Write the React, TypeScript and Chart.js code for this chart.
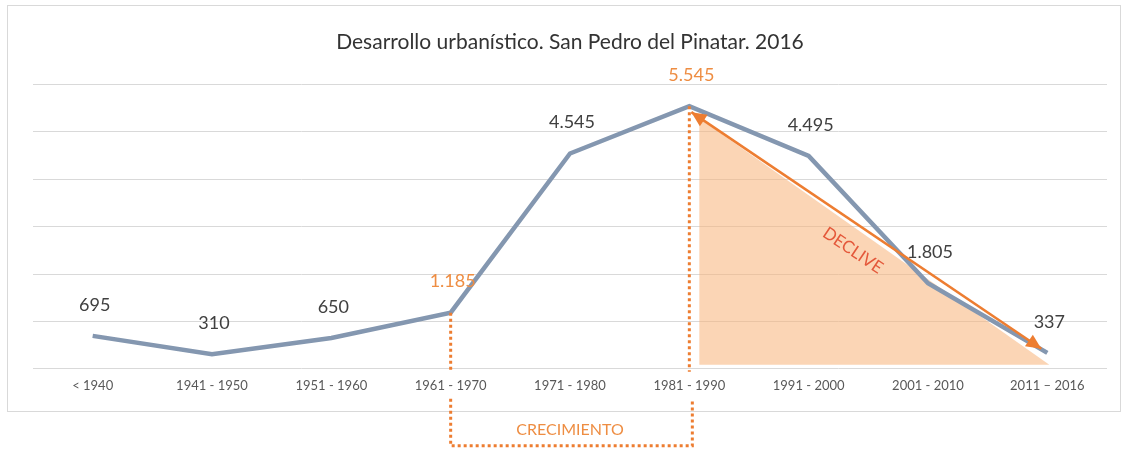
import React, { useEffect, useRef } from "react";
import { Chart, registerables } from "chart.js";

Chart.register(...registerables);

const TITLE = "Desarrollo urbanístico. San Pedro del Pinatar. 2016";
const categories = ["< 1940", "1941 - 1950", "1951 - 1960", "1961 - 1970", "1971 - 1980", "1981 - 1990", "1991 - 2000", "2001 - 2010", "2011 – 2016"];
const values = [695, 310, 650, 1185, 4545, 5545, 4495, 1805, 337];
const valueLabels = ["695", "310", "650", "1.185", "4.545", "5.545", "4.495", "1.805", "337"];
const highlightedLabels = [3, 5];
const growthRange = [3, 5];
const declineRange = [5, 8];
const growthText = "CRECIMIENTO";
const declineText = "DECLIVE";

const FONT = "Lato, 'Open Sans', sans-serif";
const ORANGE = "#ed7d31";
const ORANGE_TEXT = "#ee8d42";

function arrowHead(ctx: CanvasRenderingContext2D, tipX: number, tipY: number, fromX: number, fromY: number, len: number, half: number) {
  const a = Math.atan2(tipY - fromY, tipX - fromX);
  ctx.beginPath();
  ctx.moveTo(tipX, tipY);
  ctx.lineTo(tipX - len * Math.cos(a) + half * Math.sin(a), tipY - len * Math.sin(a) - half * Math.cos(a));
  ctx.lineTo(tipX - len * Math.cos(a) - half * Math.sin(a), tipY - len * Math.sin(a) + half * Math.cos(a));
  ctx.closePath();
  ctx.fill();
}

const annotationPlugin = {
  id: "annot",
  beforeDraw(chart: any) {
    const ctx = chart.ctx as CanvasRenderingContext2D;
    ctx.save();
    ctx.fillStyle = "#ffffff";
    ctx.fillRect(0, 0, chart.width, chart.height);
    ctx.strokeStyle = "#d9d9d9";
    ctx.lineWidth = 1;
    ctx.strokeRect(7.5, 5.5, 1113, 406);
    ctx.restore();
  },
  beforeDatasetsDraw(chart: any) {
    const ctx = chart.ctx as CanvasRenderingContext2D;
    const { x, y } = chart.scales;
    const x0 = x.getPixelForValue(declineRange[0]);
    const x1 = x.getPixelForValue(declineRange[1]);
    const yTop = y.getPixelForValue(values[declineRange[0]]);
    const yBot = y.getPixelForValue(0);
    ctx.save();
    ctx.fillStyle = "rgba(248, 178, 120, 0.55)";
    ctx.beginPath();
    ctx.moveTo(x0 + 10, yTop + 12);
    ctx.lineTo(x0 + 10, yBot - 4);
    ctx.lineTo(x1 + 2, yBot - 4);
    ctx.closePath();
    ctx.fill();
    ctx.restore();
  },
  afterDatasetsDraw(chart: any) {
    const ctx = chart.ctx as CanvasRenderingContext2D;
    const { x, y } = chart.scales;
    const area = chart.chartArea;
    ctx.save();

    // dotted growth bracket
    const gx0 = x.getPixelForValue(growthRange[0]);
    const gx1 = x.getPixelForValue(growthRange[1]);
    const bottom = area.bottom;
    ctx.strokeStyle = ORANGE;
    ctx.lineWidth = 3;
    ctx.setLineDash([3, 3]);
    ctx.beginPath();
    ctx.moveTo(gx0, y.getPixelForValue(values[growthRange[0]]));
    ctx.lineTo(gx0, bottom + 3);
    ctx.moveTo(gx1, y.getPixelForValue(values[growthRange[1]]));
    ctx.lineTo(gx1, bottom + 3);
    ctx.moveTo(gx0, bottom + 30);
    ctx.lineTo(gx0, bottom + 77);
    ctx.lineTo(gx1 + 3, bottom + 77);
    ctx.lineTo(gx1 + 3, bottom + 30);
    ctx.stroke();
    ctx.setLineDash([]);

    ctx.fillStyle = ORANGE_TEXT;
    ctx.font = `16px ${FONT}`;
    ctx.textAlign = "center";
    ctx.textBaseline = "middle";
    ctx.fillText(growthText, (gx0 + gx1) / 2, bottom + 61);

    // decline arrow
    const ax0 = x.getPixelForValue(declineRange[0]) + 2;
    const ay0 = y.getPixelForValue(values[declineRange[0]]) + 6;
    const ax1 = x.getPixelForValue(declineRange[1]) - 6;
    const ay1 = y.getPixelForValue(values[declineRange[1]]) - 4;
    ctx.strokeStyle = ORANGE;
    ctx.fillStyle = ORANGE;
    ctx.lineWidth = 2.5;
    ctx.beginPath();
    ctx.moveTo(ax0, ay0);
    ctx.lineTo(ax1, ay1);
    ctx.stroke();
    arrowHead(ctx, ax0, ay0, ax1, ay1, 15, 7);
    arrowHead(ctx, ax1, ay1, ax0, ay0, 15, 7);

    const ang = Math.atan2(ay1 - ay0, ax1 - ax0);
    const t = 0.5;
    const off = 24;
    const mx = ax0 + (ax1 - ax0) * t - off * Math.sin(ang);
    const my = ay0 + (ay1 - ay0) * t + off * Math.cos(ang);
    ctx.save();
    ctx.translate(mx, my);
    ctx.rotate(ang);
    ctx.fillStyle = "#e4583a";
    ctx.font = `17px ${FONT}`;
    ctx.textAlign = "center";
    ctx.textBaseline = "middle";
    ctx.fillText(declineText, 0, 0);
    ctx.restore();

    // data labels
    ctx.font = `18px ${FONT}`;
    ctx.textAlign = "center";
    ctx.textBaseline = "middle";
    values.forEach((v, i) => {
      const px = x.getPixelForValue(i);
      const py = y.getPixelForValue(v);
      ctx.fillStyle = highlightedLabels.includes(i) ? ORANGE_TEXT : "#404040";
      ctx.fillText(valueLabels[i], px + 2, py - 31);
    });
    ctx.restore();
  },
};

export default function App() {
  const ref = useRef<HTMLCanvasElement | null>(null);
  useEffect(() => {
    if (!ref.current) return;
    const chart = new Chart(ref.current, {
      type: "line",
      data: {
        labels: categories,
        datasets: [
          {
            data: values,
            borderColor: "#8497b0",
            borderWidth: 4.5,
            pointRadius: 0,
            tension: 0,
            fill: false,
          },
        ],
      },
      options: {
        animation: false,
        responsive: true,
        maintainAspectRatio: false,
        layout: { padding: { left: 33, right: 20, top: 0, bottom: 55.6 } },
        plugins: {
          legend: { display: false },
          tooltip: { enabled: false },
          title: {
            display: true,
            text: TITLE,
            color: "#333333",
            font: { family: FONT, size: 21, weight: "normal" },
            padding: { top: 29.4, bottom: 30 },
          },
        },
        scales: {
          x: {
            offset: true,
            grid: { display: false },
            border: { display: false },
            ticks: { color: "#595959", font: { family: FONT, size: 13 }, padding: 1, maxRotation: 0, autoSkip: false },
          },
          y: {
            min: 0,
            max: 6000,
            ticks: { display: false, stepSize: 1000 },
            border: { display: false },
            grid: { color: "#d9d9d9", lineWidth: 1, drawTicks: false },
            afterFit: (s: any) => {
              s.width = 0;
            },
          },
        },
      },
      plugins: [annotationPlugin],
    });
    return () => chart.destroy();
  }, []);
  return (
    <div style={{ position: "absolute", left: 0, top: 0, width: 1127, height: 450 }}>
      <canvas ref={ref} />
    </div>
  );
}
